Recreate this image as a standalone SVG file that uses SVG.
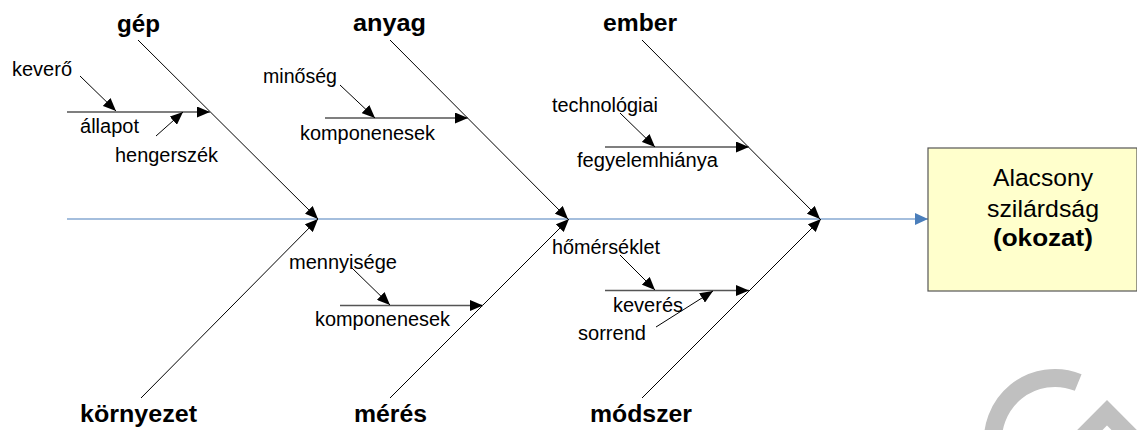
<svg xmlns="http://www.w3.org/2000/svg" width="1137" height="430" viewBox="0 0 1137 430">
  <defs>
    <marker id="ah" markerUnits="userSpaceOnUse" markerWidth="14" markerHeight="11" refX="13" refY="5.5" orient="auto">
      <path d="M0,0 L13,5.5 L0,11 z" fill="#000"/>
    </marker>
    <marker id="ahb" markerUnits="userSpaceOnUse" markerWidth="13" markerHeight="12" refX="13" refY="6" orient="auto">
      <path d="M0,0 L13,6 L0,12 z" fill="#4a7ebb"/>
    </marker>
    <style>
      .t { font-family: "Liberation Sans", Arial, sans-serif; font-size: 19.5px; fill: #000; }
      .b { font-family: "Liberation Sans", Arial, sans-serif; font-size: 24px; font-weight: bold; fill: #000; }
      .e { font-family: "Liberation Sans", Arial, sans-serif; font-size: 24.5px; fill: #000; }
      .eb { font-family: "Liberation Sans", Arial, sans-serif; font-size: 24.5px; font-weight: bold; fill: #000; }
      .bone { stroke: #000; stroke-width: 1; fill: none; marker-end: url(#ah); }
      .sub { stroke: #555; stroke-width: 1.6; fill: none; marker-end: url(#ah); }
      .cause { stroke: #000; stroke-width: 1; fill: none; marker-end: url(#ah); }
      .spine { stroke: #4a7ebb; stroke-width: 1.2; fill: none; marker-end: url(#ahb); }
    </style>
  </defs>
  <rect width="1137" height="430" fill="#fff"/>

  <g id="watermark" fill="none" stroke="#c0c0c0" stroke-width="18">
    <path d="M 993.9 450.8 A 62 62 0 0 1 1078.2 382.5"/>
    <polyline points="1070,450 1107,412.7 1144,450" stroke-linejoin="miter"/>
  </g>

  <g id="connectors">
    <path class="spine" d="M67,219 L928,219"/>
    <path class="bone" d="M138,40 L318,219"/>
    <path class="bone" d="M390,40 L568,219"/>
    <path class="bone" d="M642,40 L820,219"/>
    <path class="bone" d="M141,398 L318,219"/>
    <path class="bone" d="M390,398 L569,219"/>
    <path class="bone" d="M642,398 L821,219"/>
    <path class="sub" d="M67,112 L210,112"/>
    <path class="sub" d="M325,118 L468,118"/>
    <path class="sub" d="M605,147 L749,147"/>
    <path class="sub" d="M340,305.5 L483,305.5"/>
    <path class="sub" d="M605,290.5 L749,290.5"/>
    <path class="cause" d="M80,76 L116,111"/>
    <path class="cause" d="M156,136 L183,112"/>
    <path class="cause" d="M340,85 L375,118"/>
    <path class="cause" d="M620,113 L655,147"/>
    <path class="cause" d="M352,268 L390,305"/>
    <path class="cause" d="M620,255 L655,290"/>
    <path class="cause" d="M656,327 L713,291"/>
  </g>

  <g id="cat-gep"><text class="b" x="117" y="31.5" textLength="43" lengthAdjust="spacingAndGlyphs">gép</text></g>
  <g id="cat-anyag"><text class="b" x="353" y="30.5" textLength="73" lengthAdjust="spacingAndGlyphs">anyag</text></g>
  <g id="cat-ember"><text class="b" x="603" y="30.5" textLength="74" lengthAdjust="spacingAndGlyphs">ember</text></g>
  <g id="cat-kornyezet"><text class="b" x="80" y="421.5" textLength="117" lengthAdjust="spacingAndGlyphs">környezet</text></g>
  <g id="cat-meres"><text class="b" x="354" y="421.5" textLength="73" lengthAdjust="spacingAndGlyphs">mérés</text></g>
  <g id="cat-modszer"><text class="b" x="590" y="421.5" textLength="102" lengthAdjust="spacingAndGlyphs">módszer</text></g>

  <g id="c-kevero"><text class="t" x="12" y="76" textLength="60" lengthAdjust="spacingAndGlyphs">keverő</text></g>
  <g id="c-allapot"><text class="t" x="80" y="132.5" textLength="59" lengthAdjust="spacingAndGlyphs">állapot</text></g>
  <g id="c-hengerszek"><text class="t" x="115" y="161.5" textLength="103" lengthAdjust="spacingAndGlyphs">hengerszék</text></g>
  <g id="c-minoseg"><text class="t" x="263" y="82.5" textLength="74" lengthAdjust="spacingAndGlyphs">minőség</text></g>
  <g id="c-komp1"><text class="t" x="300" y="140" textLength="135" lengthAdjust="spacingAndGlyphs">komponenesek</text></g>
  <g id="c-technologiai"><text class="t" x="552" y="112" textLength="106" lengthAdjust="spacingAndGlyphs">technológiai</text></g>
  <g id="c-fegyelem"><text class="t" x="577" y="167" textLength="141" lengthAdjust="spacingAndGlyphs">fegyelemhiánya</text></g>
  <g id="c-mennyisege"><text class="t" x="289" y="269" textLength="108" lengthAdjust="spacingAndGlyphs">mennyisége</text></g>
  <g id="c-komp2"><text class="t" x="315" y="326" textLength="135" lengthAdjust="spacingAndGlyphs">komponenesek</text></g>
  <g id="c-homerseklet"><text class="t" x="552" y="254" textLength="108" lengthAdjust="spacingAndGlyphs">hőmérséklet</text></g>
  <g id="c-keveres"><text class="t" x="613" y="312" textLength="70" lengthAdjust="spacingAndGlyphs">keverés</text></g>
  <g id="c-sorrend"><text class="t" x="578" y="340" textLength="68" lengthAdjust="spacingAndGlyphs">sorrend</text></g>

  <g id="effect">
    <rect x="928" y="148" width="209" height="143" fill="#ffffcc" stroke="#555" stroke-width="1.2"/>
    <text class="e" x="993" y="186" textLength="100" lengthAdjust="spacingAndGlyphs">Alacsony</text>
    <text class="e" x="987" y="216.5" textLength="112" lengthAdjust="spacingAndGlyphs">szilárdság</text>
    <text class="eb" x="993" y="246" textLength="100" lengthAdjust="spacingAndGlyphs">(okozat)</text>
  </g>
</svg>
